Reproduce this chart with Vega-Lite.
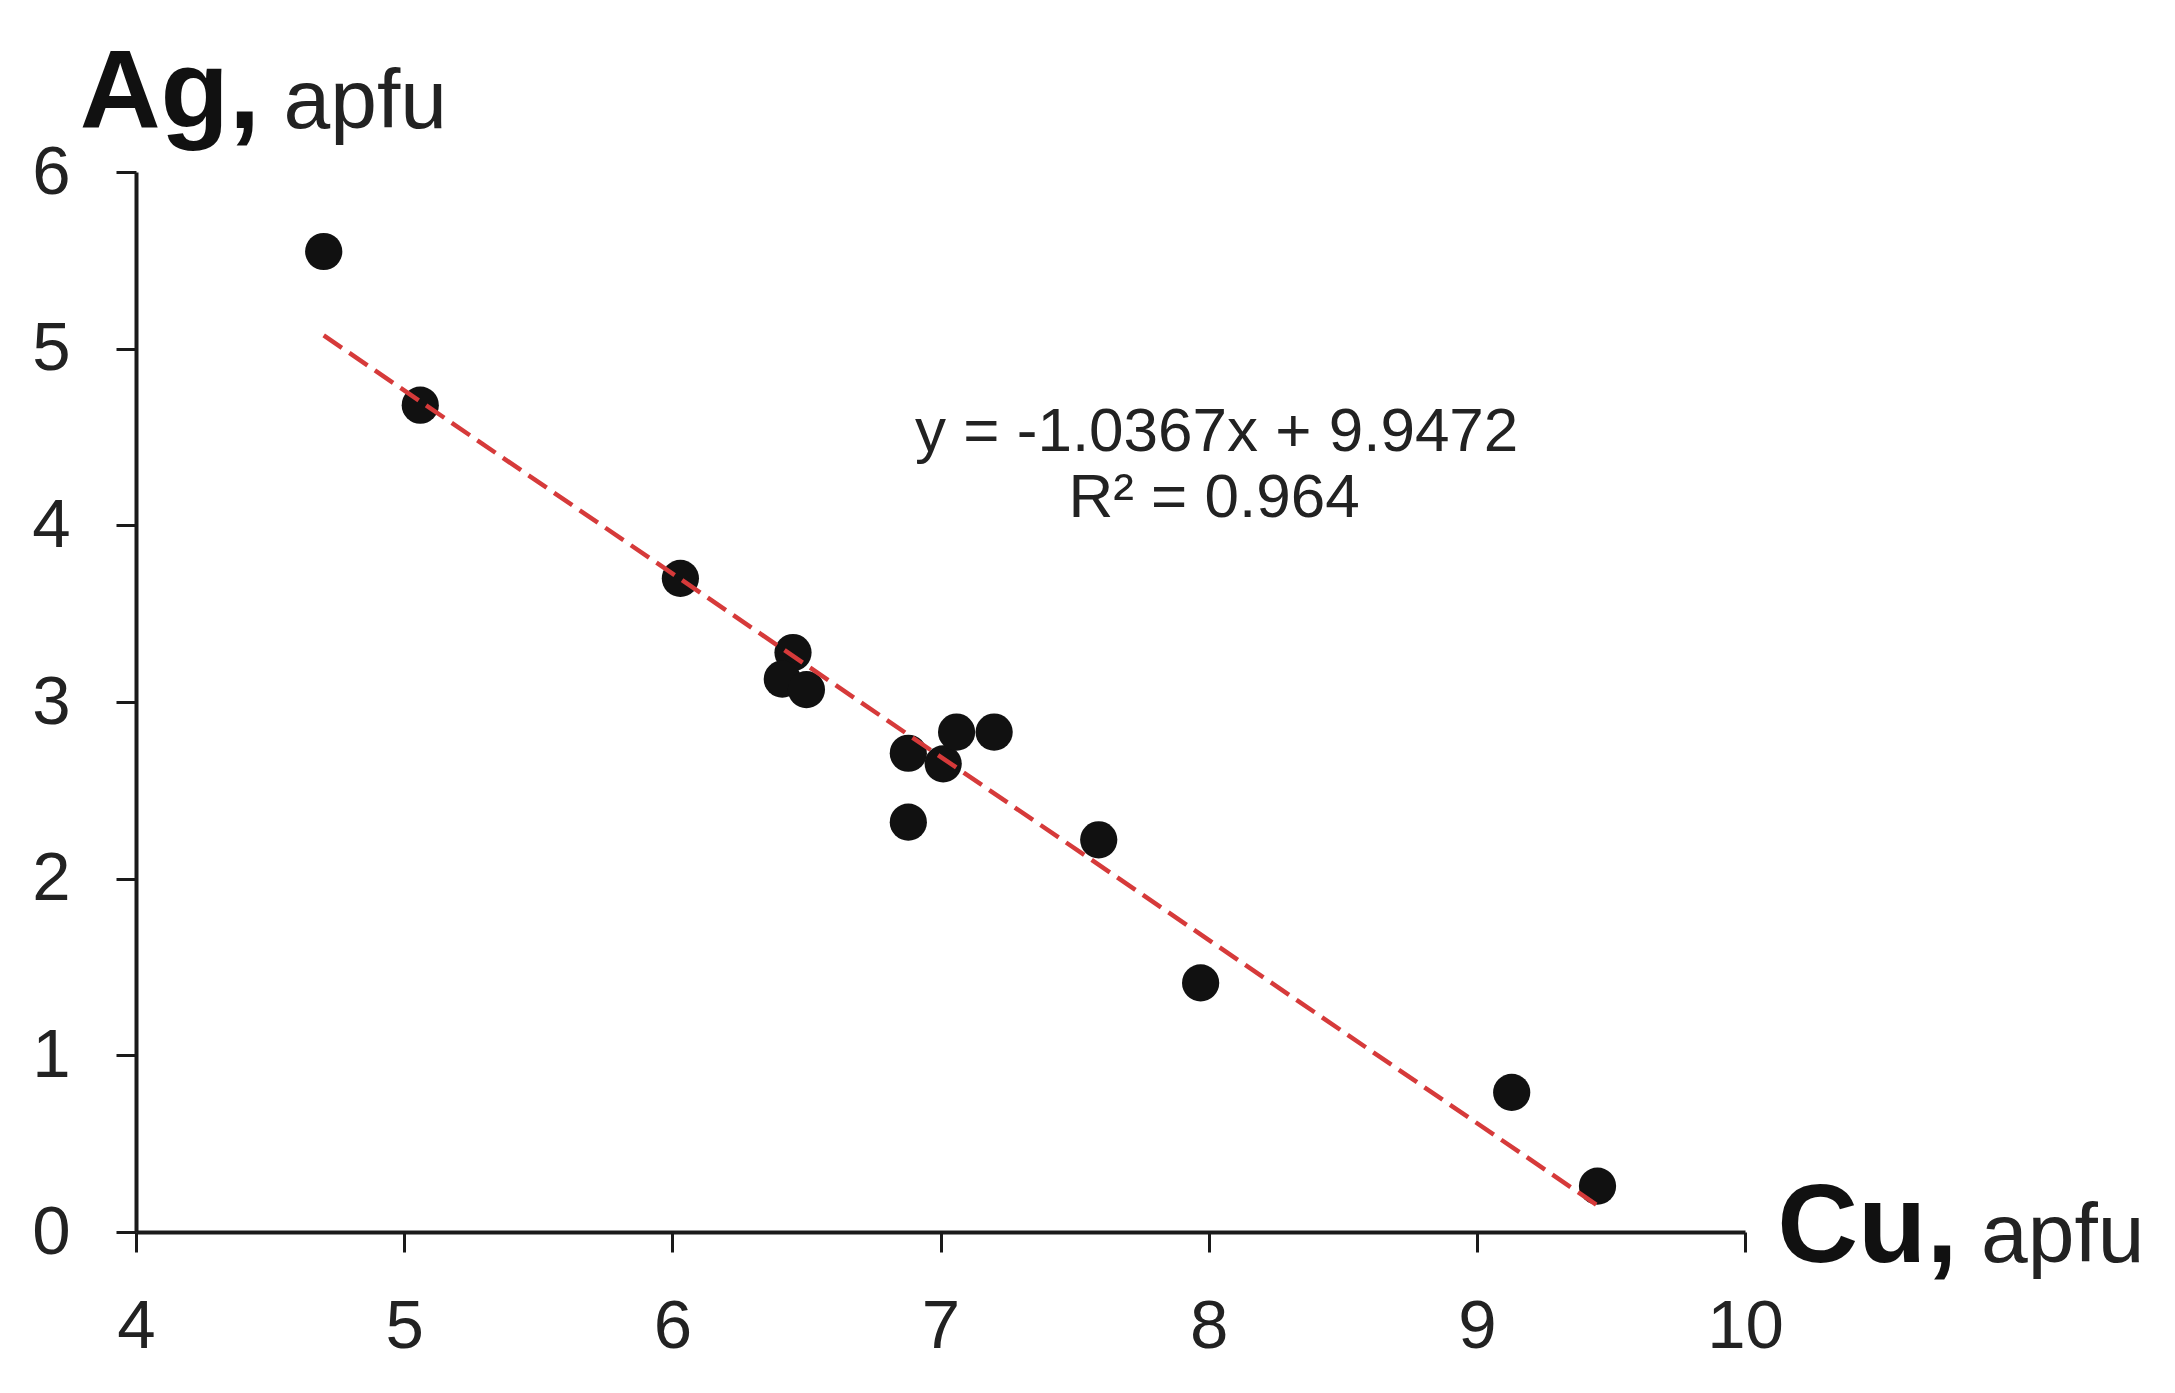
{
  "$schema": "https://vega.github.io/schema/vega-lite/v6.json",
  "width": 1609,
  "height": 1060,
  "autosize": {"type": "none"},
  "padding": {"left": 136, "top": 172, "right": 430, "bottom": 161},
  "background": "white",
  "config": {
    "view": {"stroke": null},
    "axis": {
      "grid": false,
      "domainColor": "#1a1a1a",
      "domainWidth": 4,
      "tickColor": "#1a1a1a",
      "tickWidth": 3,
      "tickSize": 20,
      "labelFont": "Liberation Sans",
      "labelFontSize": 69,
      "labelColor": "#222222",
      "labelFlush": false,
      "labelOverlap": false,
      "title": null
    }
  },
  "datasets": {
    "points": [
      {"cu": 4.70, "ag": 5.55},
      {"cu": 5.06, "ag": 4.68},
      {"cu": 6.03, "ag": 3.70},
      {"cu": 6.45, "ag": 3.28},
      {"cu": 6.41, "ag": 3.13},
      {"cu": 6.50, "ag": 3.07},
      {"cu": 6.88, "ag": 2.71},
      {"cu": 7.01, "ag": 2.65},
      {"cu": 7.06, "ag": 2.83},
      {"cu": 7.20, "ag": 2.83},
      {"cu": 6.88, "ag": 2.32},
      {"cu": 7.59, "ag": 2.22},
      {"cu": 7.97, "ag": 1.41},
      {"cu": 9.13, "ag": 0.79},
      {"cu": 9.45, "ag": 0.26}
    ],
    "fit": [
      {"cu": 4.70, "ag": 5.075},
      {"cu": 9.45, "ag": 0.15}
    ],
    "equation": [
      {"cu": 8.03, "ag": 4.42, "text": "y = -1.0367x + 9.9472"},
      {"cu": 8.02, "ag": 4.05, "text": "R² = 0.964"}
    ],
    "boldLabels": [
      {"cu": 3.79, "ag": 6.25, "text": "Ag,"},
      {"cu": 10.12, "ag": -0.17, "text": "Cu,"}
    ],
    "plainLabels": [
      {"cu": 4.55, "ag": 6.25, "text": "apfu"},
      {"cu": 10.88, "ag": -0.17, "text": "apfu"}
    ]
  },
  "encoding": {
    "x": {
      "field": "cu", "type": "quantitative",
      "scale": {"domain": [4, 10], "nice": false, "zero": false},
      "axis": {"values": [4, 5, 6, 7, 8, 9, 10], "labelPadding": 40, "labelBaseline": "top"}
    },
    "y": {
      "field": "ag", "type": "quantitative",
      "scale": {"domain": [0, 6], "nice": false, "zero": false},
      "axis": {"values": [0, 1, 2, 3, 4, 5, 6], "labelPadding": 46}
    }
  },
  "layer": [
    {
      "data": {"name": "points"},
      "mark": {"type": "circle", "size": 1385, "color": "#111111", "opacity": 1}
    },
    {
      "data": {"name": "fit"},
      "mark": {"type": "line", "color": "#d63a3a", "strokeWidth": 4.5, "strokeDash": [22, 9]}
    },
    {
      "data": {"name": "equation"},
      "mark": {"type": "text", "font": "Liberation Sans", "fontSize": 62, "align": "center", "baseline": "alphabetic", "color": "#222222"},
      "encoding": {"text": {"field": "text"}}
    },
    {
      "data": {"name": "boldLabels"},
      "mark": {"type": "text", "font": "Liberation Sans", "fontSize": 112, "fontWeight": "bold", "align": "left", "baseline": "alphabetic", "color": "#111111"},
      "encoding": {"text": {"field": "text"}}
    },
    {
      "data": {"name": "plainLabels"},
      "mark": {"type": "text", "font": "Liberation Sans", "fontSize": 84, "align": "left", "baseline": "alphabetic", "color": "#222222"},
      "encoding": {"text": {"field": "text"}}
    }
  ]
}
